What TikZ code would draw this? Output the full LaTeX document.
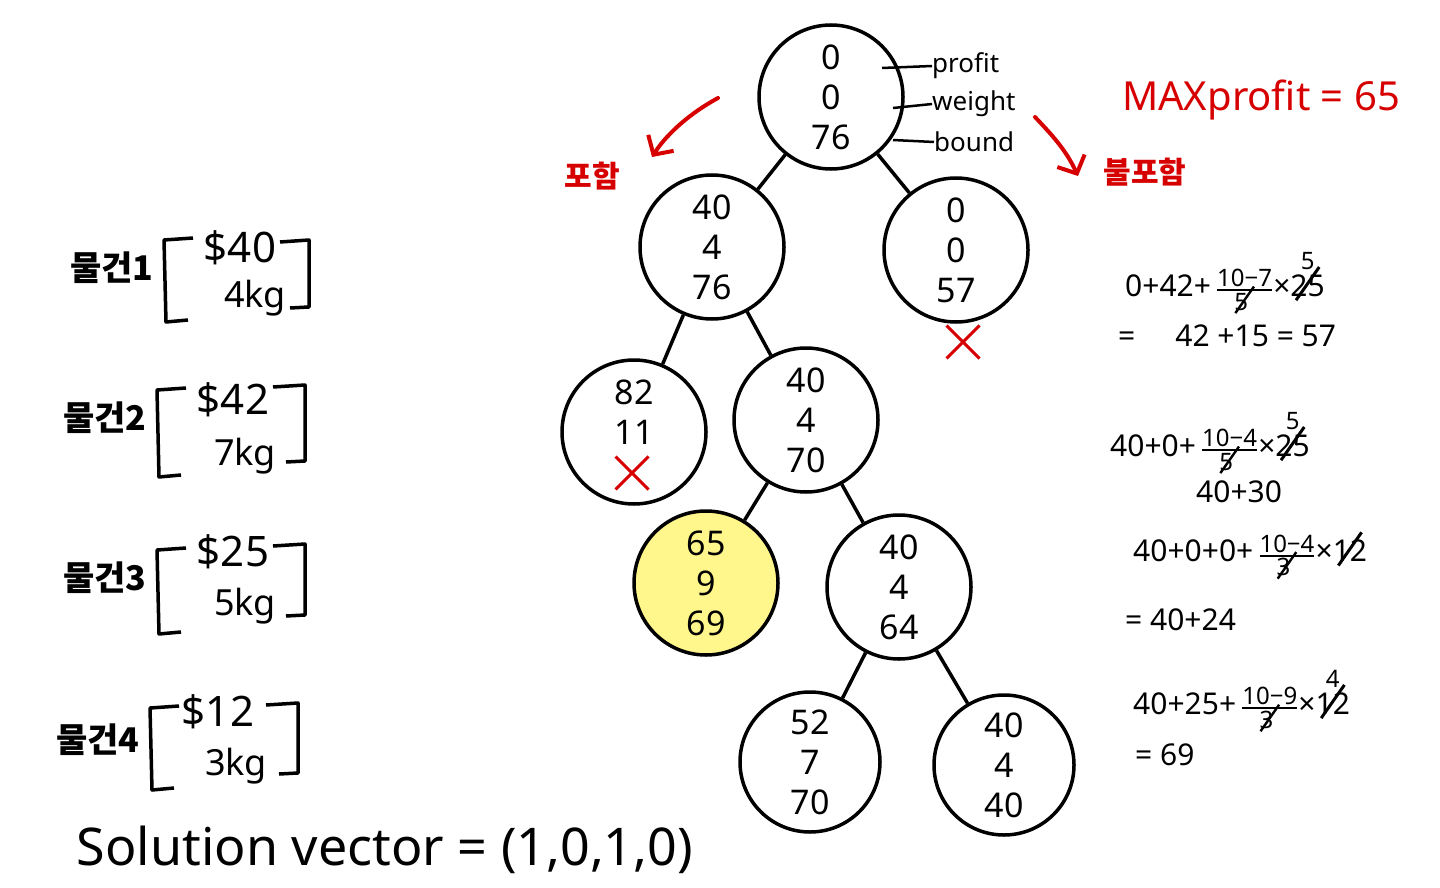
\documentclass[tikz,border=0pt]{standalone}
\usepackage{amsmath}
\usepackage{fontspec}
\setmainfont{Noto Sans}
\newfontfamily\kr{Noto Sans CJK KR}
\usepackage{graphicx}
\usetikzlibrary{arrows.meta,shapes.misc}
\definecolor{penred}{RGB}{214,0,0}
\definecolor{hl}{RGB}{255,246,140}
\newcommand\strk[1]{\ooalign{#1\cr\hfil\raisebox{-0.15em}{\rotatebox{55}{\rule{1.35em}{0.1em}}}\hfil\cr}}
\newcommand\fr[2]{\,$\genfrac{}{}{1.8pt}{}{\hbox{\fs #1}}{\hbox{\fs #2}}$}
\newcommand\up[2]{$\stackrel{\hbox{\fs #1}}{\hbox{#2}}$}
\newcommand\fs{\fontsize{24}{26}\selectfont}
\tikzset{
  st/.style={circle, draw, line width=3.5pt, minimum size=144pt, inner sep=0pt,
    align=center, font=\fontsize{34}{40}\selectfont},
  edge/.style={line width=3.5pt},
  lbl/.style={font=\fontsize{26}{28}\selectfont, inner sep=0pt},
  tick/.style={line width=2.5pt},
  xmark/.style={cross out, draw=penred, line width=3pt, minimum size=30pt, inner sep=0pt},
  redarrow/.style={draw=penred, line width=4pt, line cap=round,
    -{Straight Barb[length=14pt,width=30pt,line width=4pt]}},
  redtxt/.style={text=penred, font=\kr\bfseries\fontsize{30}{32}\selectfont, inner sep=0pt},
  item/.style={font=\kr\bfseries\fontsize{34}{36}\selectfont, inner sep=0pt},
  price/.style={font=\fontsize{42}{44}\selectfont, inner sep=0pt},
  wt/.style={font=\fontsize{36}{38}\selectfont, inner sep=0pt},
  brk/.style={line width=3.5pt, line join=round},
  calc/.style={font=\fontsize{30}{32}\selectfont, inner sep=0pt, anchor=west},
}
\begin{document}
\begin{tikzpicture}[x=1pt,y=-1pt]
\useasboundingbox (0,0) rectangle (1440,888);
% tree nodes
\node[st] (r) at (831,97) {0\\0\\76};
\node[st] (a) at (712,247) {40\\4\\76};
\node[st] (b) at (956,250) {0\\0\\57};
\node[st] (c) at (634,432) {82\\11\\\phantom{0}};
\node[st] (d) at (806,420) {40\\4\\70};
\node[st, fill=hl] (e) at (706,583) {65\\9\\69};
\node[st] (f) at (899,587) {40\\4\\64};
\node[st, minimum size=140pt] (g) at (810,762) {52\\7\\70};
\node[st, minimum size=140pt] (h) at (1004,765) {40\\4\\40};
\draw[edge] (r) -- (a);
\draw[edge] (r) -- (b);
\draw[edge] (a) -- (c);
\draw[edge] (a) -- (d);
\draw[edge] (d) -- (e);
\draw[edge] (d) -- (f);
\draw[edge] (f) -- (g);
\draw[edge] (f) -- (h);
% X marks
\node[xmark] (xb) at (963,342) {};
\node[xmark] (xc) at (632,473) {};
% root labels
\node[lbl, anchor=west] (pf) at (932,66) {profit};
\node[lbl, anchor=west] (wg) at (932,104) {weight};
\node[lbl, anchor=west] (bd) at (934,142) {bound};
\coordinate (pfs) at (882,68);
\coordinate (wgs) at (893,108);
\coordinate (bds) at (893,140);
\draw[tick] (pfs) -- (pf.west);
\draw[tick] (wgs) -- (wg.west);
\draw[tick] (bds) -- (bd.west);
% red arrows and labels
\coordinate (la1) at (718,98);
\coordinate (la2) at (652,157);
\draw[redarrow] (la1) .. controls (685,116) and (664,138) .. (la2);
\coordinate (ra1) at (1035,117);
\coordinate (ra2) at (1078,176);
\draw[redarrow] (ra1) .. controls (1052,135) and (1066,150) .. (ra2);
\node[redtxt] (inc) at (592,176) {포함};
\node[redtxt] (exc) at (1145,172) {불포함};
\node[text=penred, font=\fontsize{40}{42}\selectfont, inner sep=0pt] (mx) at (1261,100) {MAXprofit = 65};
% items
\begin{scope}
\node[item] (i1) at (112,268) {물건1};
\node[price] (p1) at (240,248) {\$40};
\node[wt] (w1) at (255,298) {4kg};
\draw[brk] (193,238) -- (164,240) -- (166,322) -- (188,320);
\draw[brk] (280,242) -- (309,240) -- (309,307) -- (290,308);
\end{scope}
\begin{scope}[shift={(-7,150)}]
\node[item] (i2) at (112,268) {물건2};
\node[price] (p2) at (240,250) {\$42};
\node[wt] (w2) at (252,306) {7kg};
\draw[brk] (193,238) -- (164,240) -- (166,327) -- (188,325);
\draw[brk] (280,237) -- (312,235) -- (312,311) -- (293,312);
\end{scope}
\begin{scope}[shift={(-7,310)}]
\node[item] (i3) at (112,268) {물건3};
\node[price] (p3) at (240,242) {\$25};
\node[wt] (w3) at (252,296) {5kg};
\draw[brk] (193,238) -- (164,240) -- (166,324) -- (188,322);
\draw[brk] (280,236) -- (312,234) -- (312,305) -- (293,306);
\end{scope}
\begin{scope}[shift={(-14,468)}]
\node[item] (i4) at (112,272) {물건4};
\node[price] (p4) at (232,244) {\$12};
\node[wt] (w4) at (250,298) {3kg};
\draw[brk] (193,238) -- (164,240) -- (166,322) -- (188,320);
\draw[brk] (280,237) -- (312,235) -- (312,305) -- (293,306);
\end{scope}
\node[font=\fontsize{52}{56}\selectfont, inner sep=0pt] (sv) at (385,850) {Solution vector = (1,0,1,0)};
% calculations
\node[calc] (c1) at (1125,282) {0+42+\fr{10−7}{\strk{5}}×\up{5}{\strk{25}}};
\node[calc] (c1b) at (1118,336) {=\hspace{40pt}42 +15 = 57};
\node[calc] (c2) at (1110,442) {40+0+\fr{10−4}{\strk{5}}×\up{5}{\strk{25}}};
\node[calc] (c2b) at (1196,492) {40+30};
\node[calc] (c3) at (1133,557) {40+0+0+\fr{10−4}{\strk{3}}×\strk{12}};
\node[calc] (c3b) at (1125,620) {= 40+24};
\node[calc] (c4) at (1133,700) {40+25+\fr{10−9}{\strk{3}}×\up{4}{\strk{12}}};
\node[calc] (c4b) at (1135,755) {= 69};
\end{tikzpicture}
\end{document}
